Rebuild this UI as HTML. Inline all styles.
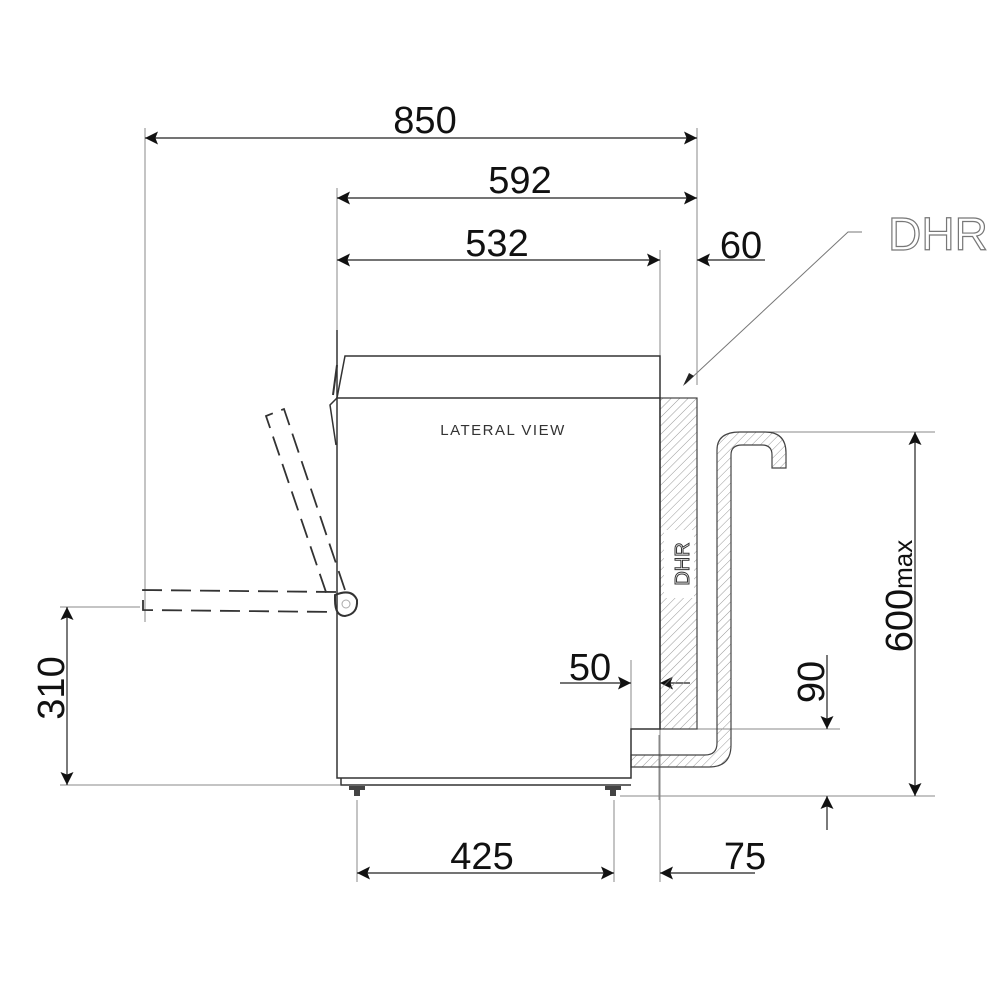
<!DOCTYPE html>
<html><head><meta charset="utf-8"><style>html,body{margin:0;padding:0;background:#fff}svg{display:block}</style></head>
<body>
<svg width="1000" height="1000" viewBox="0 0 1000 1000" xmlns="http://www.w3.org/2000/svg" font-family="Liberation Sans, sans-serif">
<defs>
<pattern id="h" patternUnits="userSpaceOnUse" width="6" height="6" patternTransform="rotate(45)">
<line x1="0" y1="0" x2="0" y2="6" stroke="#999" stroke-width="1"/>
</pattern>
<marker id="a" viewBox="0 0 10 10" refX="10" refY="5" markerWidth="19" markerHeight="13" markerUnits="userSpaceOnUse" orient="auto-start-reverse">
<path d="M0,0 L10,5 L0,10 L2,5 Z" fill="#111"/>
</marker>
</defs>
<g stroke="#888" stroke-width="1" fill="none">
<line x1="145" y1="128" x2="145" y2="622"/>
<line x1="337" y1="188" x2="337" y2="398"/>
<line x1="660" y1="250" x2="660" y2="398"/>
<line x1="697" y1="128" x2="697" y2="385"/>
<line x1="60" y1="607" x2="140" y2="607"/>
<line x1="60" y1="785" x2="340" y2="785"/>
<line x1="740" y1="432" x2="935" y2="432"/>
<line x1="620" y1="796" x2="935" y2="796"/>
<line x1="660" y1="729" x2="840" y2="729"/>
<line x1="357" y1="800" x2="357" y2="882"/>
<line x1="614" y1="800" x2="614" y2="882"/>
<line x1="660" y1="729" x2="660" y2="882"/>
<line x1="631" y1="660" x2="631" y2="729"/>
<line x1="659" y1="735" x2="659" y2="800"/>
<polyline points="862,232 848,232 685,384" stroke="#777"/>
</g>
<path d="M694,376 L683,386 L689,373 Z" fill="#222"/>
<g stroke="#222" stroke-width="1.2" fill="none">
<line x1="145" y1="138" x2="697" y2="138" marker-start="url(#a)" marker-end="url(#a)"/>
<line x1="337" y1="198" x2="697" y2="198" marker-start="url(#a)" marker-end="url(#a)"/>
<line x1="337" y1="260" x2="660" y2="260" marker-start="url(#a)" marker-end="url(#a)"/>
<line x1="765" y1="260" x2="697" y2="260" marker-end="url(#a)"/>
<line x1="67" y1="607" x2="67" y2="785" marker-start="url(#a)" marker-end="url(#a)"/>
<line x1="915" y1="432" x2="915" y2="796" marker-start="url(#a)" marker-end="url(#a)"/>
<line x1="827" y1="655" x2="827" y2="729" marker-end="url(#a)"/>
<line x1="827" y1="830" x2="827" y2="796" marker-end="url(#a)"/>
<line x1="560" y1="683" x2="631" y2="683" marker-end="url(#a)"/>
<line x1="690" y1="683" x2="660" y2="683" marker-end="url(#a)"/>
<line x1="357" y1="873" x2="614" y2="873" marker-start="url(#a)" marker-end="url(#a)"/>
<line x1="755" y1="873" x2="660" y2="873" marker-end="url(#a)"/>
</g>
<rect x="660" y="398" width="37" height="331" fill="url(#h)" stroke="#444" stroke-width="1.2"/>
<rect x="664" y="530" width="30" height="68" fill="#fff"/>
<path d="M631,755 L705,755 Q717,755 717,743 L717,450 Q717,432 740,432 L765,432 Q786,432 786,453 L786,468 L772,468 L772,455 Q772,445 762,445 L742,445 Q731,445 731,455 L731,745 Q731,767 709,767 L631,767 Z" fill="url(#h)" stroke="#444" stroke-width="1.2"/>
<g stroke="#333" stroke-width="1.5" fill="none">
<path d="M337,398 L660,398 L660,729 L631,729 L631,778 L337,778 Z"/>
<path d="M337,398 L345,356 L660,356 L660,398"/>
<line x1="337" y1="330" x2="337" y2="398"/>
<path d="M341,778 L341,785 L631,785"/>
<path d="M337,398 L330,405 L336,445"/>
<path d="M337,365 L333,395" stroke-width="2"/>
</g>
<g fill="#444"><rect x="349" y="786" width="16" height="4"/><rect x="354" y="790" width="6" height="6"/>
<rect x="605" y="786" width="16" height="4"/><rect x="610" y="790" width="6" height="6"/></g>
<g stroke="#333" stroke-width="1.8" fill="none" stroke-dasharray="20,9">
<path d="M336,592 L143,590 L143,610 L336,612"/>
<path d="M345,590 L284,409 L266,416 L328,598"/>
</g>
<g stroke="#333" stroke-width="2" fill="none">
<path d="M335,595 Q352,588 357,600 Q358,614 345,616 Q335,616 335,600 Z"/>
</g>
<circle cx="346" cy="604" r="4" fill="none" stroke="#aaa"/>
<g fill="#111" font-size="38">
<text x="425" y="133" text-anchor="middle">850</text>
<text x="520" y="193" text-anchor="middle">592</text>
<text x="497" y="256" text-anchor="middle">532</text>
<text x="741" y="258" text-anchor="middle">60</text>
<text x="590" y="680" text-anchor="middle">50</text>
<text x="482" y="869" text-anchor="middle">425</text>
<text x="745" y="869" text-anchor="middle">75</text>
<text transform="translate(64,688) rotate(-90)" text-anchor="middle">310</text>
<text transform="translate(824,682) rotate(-90)" text-anchor="middle">90</text>
<text transform="translate(912,596) rotate(-90)" text-anchor="middle">600<tspan font-size="26">max</tspan></text>
</g>
<text x="938" y="250" text-anchor="middle" font-size="46" fill="#fff" stroke="#777" stroke-width="1.2">DHR</text>
<text x="503" y="435" text-anchor="middle" font-size="15" fill="#333" letter-spacing="1.5">LATERAL VIEW</text>
<text transform="translate(689,564) rotate(-90)" text-anchor="middle" font-size="20" fill="#fff" stroke="#333" stroke-width="1">DHR</text>
</svg>
</body></html>
